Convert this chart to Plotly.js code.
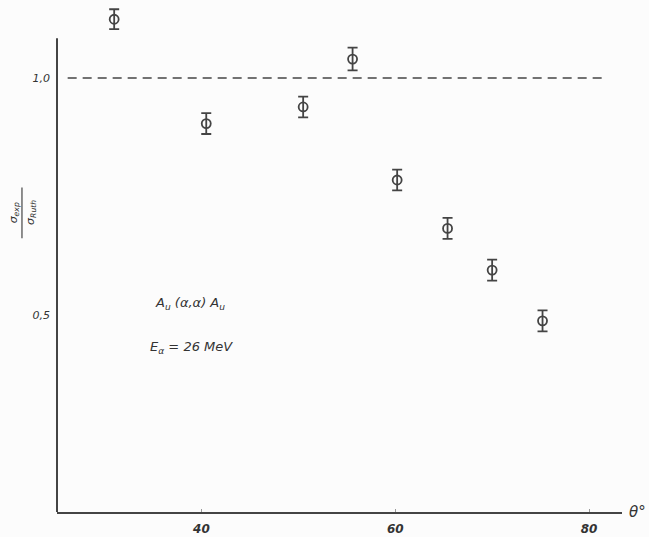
<!DOCTYPE html>
<html>
<head>
<meta charset="utf-8">
<script src="https://cdn.plot.ly/plotly-3.0.1.min.js"></script>
<style>html,body{margin:0;padding:0;background:#fcfcfc;}#chart{width:649px;height:537px;}</style>
</head>
<body>
<div id="chart"></div>
<script>
// Data
const angles = [31.0, 40.5, 50.5, 55.6, 60.2, 65.4, 70.0, 75.2];   // θ (deg)
const ratio  = [1.124, 0.904, 0.939, 1.040, 0.785, 0.683, 0.595, 0.488]; // σexp/σRuth
const errors = [0.021, 0.022, 0.022, 0.024, 0.022, 0.022, 0.022, 0.022];
const xTickVals = [40, 60, 80];
const xTickText = ['40', '60', '80'];
const yTickVals = [0.5, 1.0];
const yTickText = ['0,5', '1,0'];
const referenceLevel = 1.0;

const ink = '#444';
const fontFam = '"DejaVu Sans", "Liberation Sans", sans-serif';

const trace = {
  x: angles, y: ratio, type: 'scatter', mode: 'markers', cliponaxis: false,
  marker: {symbol: 'circle-open', size: 9, color: ink, line: {width: 1.8, color: ink}},
  error_y: {type: 'data', array: errors, visible: true, color: ink, thickness: 1.8, width: 5},
  showlegend: false, hoverinfo: 'skip'
};

const layout = {
  width: 649, height: 537,
  margin: {l: 57, r: 27, t: 5, b: 25},
  paper_bgcolor: '#fcfcfc', plot_bgcolor: '#fcfcfc',
  xaxis: {
    range: [25.1, 83.4], showgrid: false, zeroline: false,
    showline: true, linecolor: ink, linewidth: 2,
    tickvals: xTickVals, ticktext: xTickText, ticks: 'inside', ticklen: 3, tickcolor: '#999',
    ticklabelstandoff: 5,
    tickfont: {family: fontFam, size: 12, color: '#333', weight: 'bold', style: 'italic'}
  },
  yaxis: {
    range: [0.085, 1.154], showgrid: false, zeroline: false, showline: false,
    tickvals: yTickVals, ticktext: yTickText, ticks: '',
    ticklabelstandoff: 6,
    tickfont: {family: fontFam, size: 11, color: '#333', style: 'italic'}
  },
  shapes: [
    {type: 'line', xref: 'paper', yref: 'y', x0: 0, x1: 0, y0: 0.085, y1: 1.084,
     line: {color: ink, width: 2}},
    {type: 'line', xref: 'x', yref: 'y', x0: 26.2, x1: 81.45, y0: referenceLevel, y1: referenceLevel,
     line: {color: ink, width: 1.5, dash: '9px,6px'}},
    {type: 'line', xref: 'paper', yref: 'paper', x0: -0.062, x1: -0.062, y0: 0.54, y1: 0.64,
     line: {color: ink, width: 1.2}}
  ],
  annotations: [
    {xref: 'x', yref: 'y', x: 38.8, y: 0.525, text: 'A<sub>u</sub> (α,α) A<sub>u</sub>', showarrow: false,
     font: {family: fontFam, size: 13, color: '#333', style: 'italic'}},
    {xref: 'x', yref: 'y', x: 39.0, y: 0.432, text: 'E<sub>α</sub> = 26 MeV', showarrow: false,
     font: {family: fontFam, size: 13, color: '#333', style: 'italic'}},
    {xref: 'paper', yref: 'y', x: 1.028, y: 0.085, xanchor: 'center', yanchor: 'middle',
     text: 'θ°', showarrow: false, font: {family: fontFam, size: 15, color: '#333', style: 'italic'}},
    {xref: 'paper', yref: 'paper', x: -0.077, y: 0.59, xanchor: 'center', yanchor: 'middle', textangle: -90,
     text: 'σ<sub>exp</sub>', showarrow: false, font: {family: fontFam, size: 11, color: '#333', style: 'italic'}},
    {xref: 'paper', yref: 'paper', x: -0.046, y: 0.59, xanchor: 'center', yanchor: 'middle', textangle: -90,
     text: 'σ<sub>Ruth</sub>', showarrow: false, font: {family: fontFam, size: 11, color: '#333', style: 'italic'}}
  ]
};

Plotly.newPlot('chart', [trace], layout, {staticPlot: true, displayModeBar: false});
</script>
</body>
</html>
